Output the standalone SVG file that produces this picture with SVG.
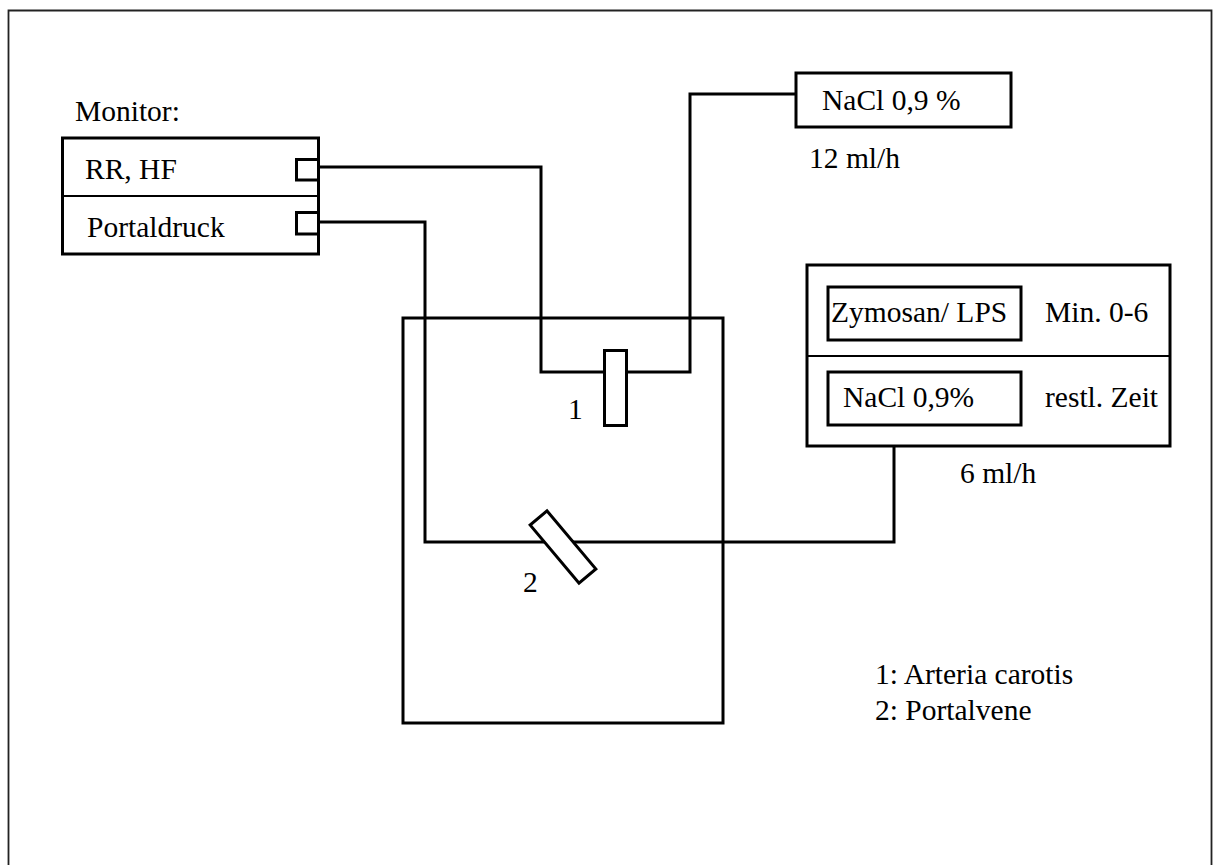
<svg xmlns="http://www.w3.org/2000/svg" width="1213" height="865" viewBox="0 0 1213 865">
<style>
text{font-family:"Liberation Serif","Times New Roman",serif;font-size:29.5px;fill:#000}
.box{fill:#fff;stroke:#000;stroke-width:3}
.frame{fill:none;stroke:#000;stroke-width:3}
.div{stroke:#000;stroke-width:2}
.wire{fill:none;stroke:#000;stroke-width:3}
</style>
<rect x="0" y="0" width="1213" height="865" fill="#fff"/>
<path d="M8.5,870 V10.5 H1211.5 V870" fill="none" stroke="#222" stroke-width="1.8"/>
<g id="body"><rect class="frame" x="403" y="318" width="320" height="405"/></g>
<g id="connectors">
<path class="wire" d="M318,167 H541 V372 H690 V94 H796"/>
<path class="wire" d="M318,222 H425 V542 H894 V446"/>
</g>
<g id="monitor">
<text x="75" y="121">Monitor:</text>
<rect class="box" x="62.5" y="138" width="256" height="116"/>
<line class="div" x1="62.5" y1="196" x2="318.5" y2="196"/>
<path class="wire" d="M318,159.5 H296.5 V180 H318"/>
<path class="wire" d="M318,212.5 H296.5 V234 H318"/>
<text x="85" y="179">RR, HF</text>
<text x="87" y="237">Portaldruck</text>
</g>
<g id="probe1">
<rect class="box" x="604.5" y="350.5" width="22" height="75"/>
<text x="568" y="419">1</text>
</g>
<g id="probe2">
<rect class="box" x="-38" y="-11" width="76" height="22" transform="translate(563,547) rotate(50)"/>
<text x="523" y="592">2</text>
</g>
<g id="nacl">
<rect class="box" x="796" y="73" width="215" height="54"/>
<text x="822" y="110">NaCl 0,9 %</text>
<text x="809" y="168">12 ml/h</text>
</g>
<g id="pump">
<rect class="box" x="807" y="265" width="363" height="181"/>
<line class="div" x1="807" y1="356" x2="1170" y2="356"/>
<rect class="box" x="828" y="287" width="193" height="53"/>
<rect class="box" x="828" y="372" width="193" height="53"/>
<text x="831" y="322">Zymosan/ LPS</text>
<text x="1045" y="322">Min. 0-6</text>
<text x="843" y="407">NaCl 0,9%</text>
<text x="1045" y="407">restl. Zeit</text>
<text x="960" y="483">6 ml/h</text>
</g>
<g id="legend">
<text x="875" y="684">1: Arteria carotis</text>
<text x="875" y="720">2: Portalvene</text>
</g>
</svg>
